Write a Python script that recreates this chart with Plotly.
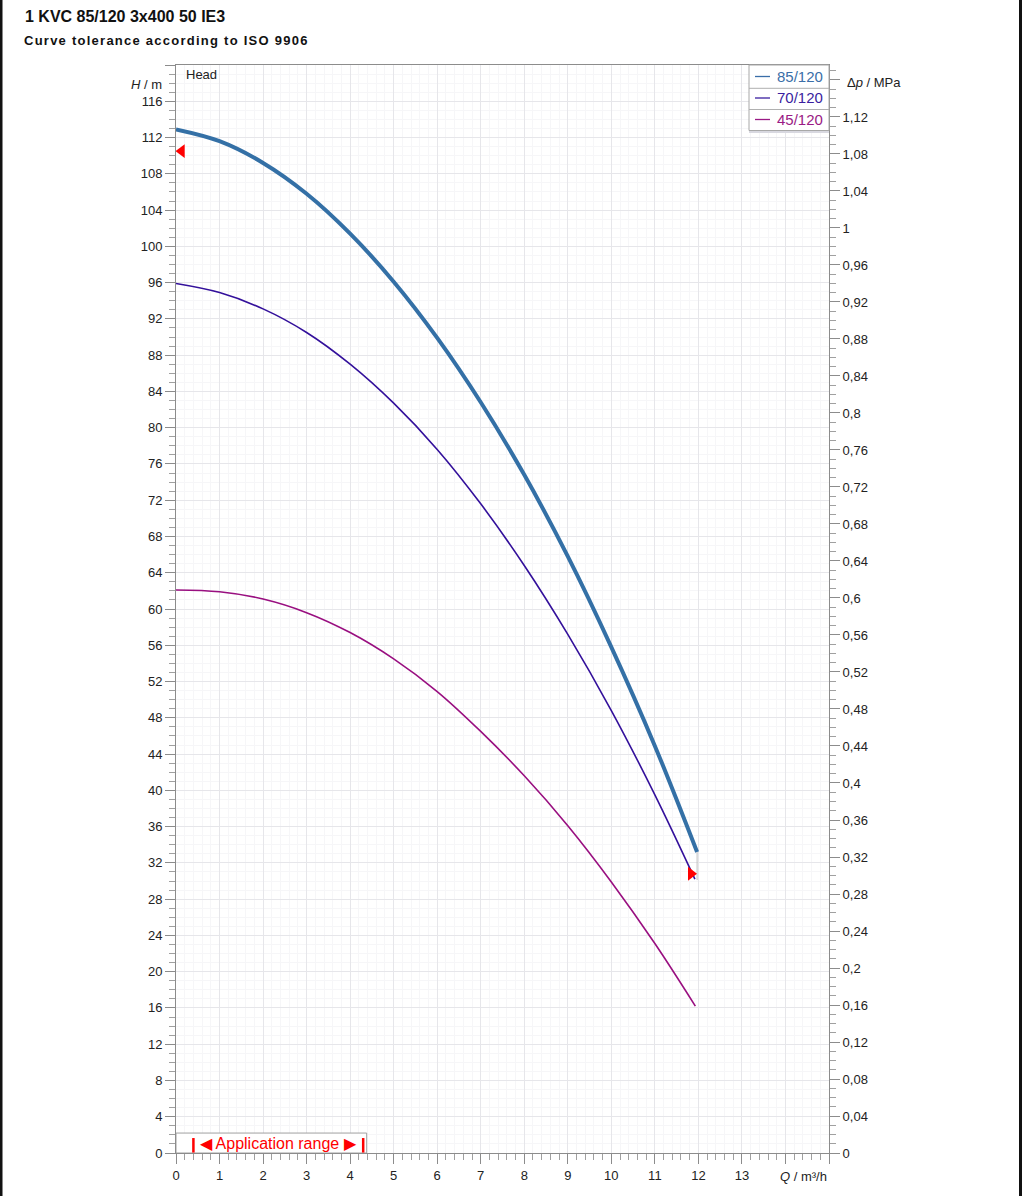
import plotly.graph_objects as go

# ---------------- data ----------------
series_names = ["85/120", "70/120", "45/120"]
q_85 = [0, 1, 2, 3, 4, 5, 6, 7, 8, 9, 10, 11, 11.97]
h_85 = [112.9, 111.6, 109.2, 105.8, 101.4, 96.1, 89.9, 82.8, 74.8, 65.8, 55.8, 44.9, 33.2]
q_70 = [0, 1, 2, 3, 4, 5, 6, 7, 8, 9, 10, 11, 11.92]
h_70 = [95.9, 94.9, 93.1, 90.5, 87.0, 82.7, 77.6, 71.6, 64.8, 57.2, 48.8, 39.5, 30.2]
q_45 = [0, 1, 2, 3, 4, 5, 6, 7, 8, 9, 10, 11, 11.93]
h_45 = [62.1, 61.9, 61.1, 59.6, 57.4, 54.5, 50.9, 46.5, 41.6, 36.1, 29.9, 23.1, 16.2]

tol_q = [0.13, 11.83]          # tolerance markers
tol_h = [110.5, 30.8]
tol_bar_q = [11.97, 11.97]
tol_bar_h = [33.2, 30.1]

app_range = [0.4, 4.3]          # application range (m³/h)

x_tick_vals = list(range(0, 16))
x_tick_text = [str(v) for v in range(0, 14)] + ["", ""]
y_tick_vals = list(range(0, 121, 4))
y_tick_text = [str(v) for v in range(0, 117, 4)] + [""]
p_tick_vals = [round(0.04 * i, 2) for i in range(0, 30)]
p_tick_text = ["0", "0,04", "0,08", "0,12", "0,16", "0,2", "0,24", "0,28", "0,32", "0,36",
               "0,4", "0,44", "0,48", "0,52", "0,56", "0,6", "0,64", "0,68", "0,72", "0,76",
               "0,8", "0,84", "0,88", "0,92", "0,96", "1", "1,04", "1,08", "1,12", ""]

colors = ["#3470a6", "#33109b", "#990f80"]
legend_text_colors = ["#3a6ea8", "#3a1ea0", "#9a1a85"]
widths = [4, 1.6, 1.6]

# ---------------- layout geometry (pixels) ----------------
W, H = 1022, 1196
L, R, T, B = 176, 829, 65, 1153


def px(p):
    return (p - L) / (R - L)


def py(p):
    return (B - p) / (B - T)


FONT = "Liberation Sans, Arial, sans-serif"
AX = "#8c8c8c"

fig = go.Figure()
for name, qs, hs, c, w in zip(series_names, [q_85, q_70, q_45], [h_85, h_70, h_45], colors, widths):
    fig.add_trace(go.Scatter(x=qs, y=hs, mode="lines", name=name,
                             line=dict(color=c, width=w, shape="spline", smoothing=1.0),
                             showlegend=False))

fig.add_trace(go.Scatter(x=tol_bar_q, y=tol_bar_h, mode="lines",
                         line=dict(color="#c0c0c0", width=1), showlegend=False, hoverinfo="skip"))
fig.add_trace(go.Scatter(x=[tol_q[0]], y=[tol_h[0]], mode="markers",
                         marker=dict(symbol="triangle-left", size=12, color="#ff0000"),
                         showlegend=False))
fig.add_trace(go.Scatter(x=[tol_q[1]], y=[tol_h[1]], mode="markers",
                         marker=dict(symbol="triangle-right", size=12, color="#ff0000"),
                         showlegend=False))
# pressure axis carrier
fig.add_trace(go.Scatter(x=[None], y=[None], yaxis="y2", showlegend=False, hoverinfo="skip"))

shapes = []
annotations = []

# application range box
shapes.append(dict(type="rect", xref="x", yref="y", x0=0, x1=4.38, y0=0, y1=2.2,
                   line=dict(color="#a0a0a0", width=1), fillcolor="white", layer="above"))
for qv in app_range:
    shapes.append(dict(type="line", xref="x", yref="y", x0=qv, x1=qv, y0=0.05, y1=1.65,
                       line=dict(color="#ff0000", width=2.5), layer="above"))
annotations.append(dict(x=(app_range[0] + app_range[1]) / 2, y=1.05, xref="x", yref="y",
                        text="◀ Application range ▶", showarrow=False,
                        font=dict(family=FONT, size=16, color="#ff0000")))

# legend (box with separators)
shapes.append(dict(type="rect", xref="paper", yref="paper", x0=px(749), x1=1, y0=py(130.5), y1=1,
                   line=dict(color="#a8a8a8", width=1), fillcolor="white", layer="above"))
shapes.append(dict(type="line", xref="paper", yref="paper", x0=px(749), x1=1, y0=py(132), y1=py(132),
                   line=dict(color="#d8d8e0", width=2), layer="above"))
for sep in [88.3, 109.5]:
    shapes.append(dict(type="line", xref="paper", yref="paper", x0=px(749), x1=1, y0=py(sep), y1=py(sep),
                       line=dict(color="#b0b0b0", width=1), layer="above"))
for i, (name, c, tc) in enumerate(zip(series_names, colors, legend_text_colors)):
    yc = 76.5 + i * 21.5
    shapes.append(dict(type="line", xref="paper", yref="paper", x0=px(755), x1=px(770),
                       y0=py(yc), y1=py(yc), line=dict(color=tc, width=1.3), layer="above"))
    annotations.append(dict(x=px(775), y=py(yc), xref="paper", yref="paper", xanchor="left",
                            yanchor="middle", text=name, showarrow=False,
                            font=dict(family=FONT, size=15, color=tc)))

# page frame edges
shapes.append(dict(type="rect", xref="paper", yref="paper", x0=px(0), x1=px(2.5), y0=py(1196), y1=py(0),
                   line=dict(width=0), fillcolor="#111111", layer="above"))
shapes.append(dict(type="rect", xref="paper", yref="paper", x0=px(1019), x1=px(1022), y0=py(1196), y1=py(0),
                   line=dict(width=0), fillcolor="#111111", layer="above"))

# titles and axis captions
annotations.append(dict(x=px(23), y=py(16), xref="paper", yref="paper", xanchor="left", yanchor="middle",
                        text="<b>1 KVC 85/120 3x400 50 IE3</b>", showarrow=False,
                        font=dict(family=FONT, size=16, color="#111111")))
annotations.append(dict(x=px(22), y=py(40), xref="paper", yref="paper", xanchor="left", yanchor="middle",
                        text="<b><span style='letter-spacing:1.25px'>Curve tolerance according to ISO 9906</span></b>",
                        showarrow=False, font=dict(family=FONT, size=13, color="#111111")))
annotations.append(dict(x=px(164), y=py(84), xref="paper", yref="paper", xanchor="right", yanchor="middle",
                        text="<i>H</i> / m", showarrow=False, font=dict(family=FONT, size=13, color="#222222")))
annotations.append(dict(x=px(184), y=py(75), xref="paper", yref="paper", xanchor="left", yanchor="middle",
                        text="Head", showarrow=False, font=dict(family=FONT, size=13, color="#222222")))
annotations.append(dict(x=px(845), y=py(82), xref="paper", yref="paper", xanchor="left", yanchor="middle",
                        text="Δ<i>p</i> / MPa", showarrow=False, font=dict(family=FONT, size=13, color="#222222")))
annotations.append(dict(x=px(829), y=py(1176), xref="paper", yref="paper", xanchor="right", yanchor="middle",
                        text="<i>Q</i> / m³/h", showarrow=False, font=dict(family=FONT, size=13, color="#222222")))

fig.update_layout(
    width=W, height=H,
    margin=dict(l=L, r=W - R, t=T, b=H - B, pad=0),
    paper_bgcolor="white", plot_bgcolor="white",
    font=dict(family=FONT, size=13, color="#222222"),
    showlegend=False,
    shapes=shapes, annotations=annotations,
    xaxis=dict(range=[0, 15], tickmode="array", tickvals=x_tick_vals, ticktext=x_tick_text,
               showgrid=True, gridcolor="#e6e6ea", gridwidth=1,
               showline=True, linecolor=AX, linewidth=1, mirror=True,
               ticks="outside", ticklen=10, tickcolor=AX, zeroline=False,
               minor=dict(dtick=0.2, showgrid=True, gridcolor="#f6f6f8", ticks="outside",
                          ticklen=6, tickcolor="#a0a0a0"),
               tickfont=dict(family=FONT, size=13, color="#222222")),
    yaxis=dict(range=[0, 120], tickmode="array", tickvals=y_tick_vals, ticktext=y_tick_text,
               showgrid=True, gridcolor="#e6e6ea", gridwidth=1,
               showline=True, linecolor=AX, linewidth=1,
               ticks="outside", ticklen=10, tickcolor=AX, zeroline=False,
               minor=dict(dtick=1, showgrid=True, gridcolor="#f6f6f8", ticks="outside",
                          ticklen=6, tickcolor="#a0a0a0"),
               tickfont=dict(family=FONT, size=13, color="#222222")),
    yaxis2=dict(range=[0, 1.1762], overlaying="y", side="right", anchor="x",
                tickmode="array", tickvals=p_tick_vals, ticktext=p_tick_text,
                showgrid=False, showline=True, linecolor=AX, linewidth=1,
                ticks="outside", ticklen=10, tickcolor=AX, zeroline=False,
                minor=dict(dtick=0.01, ticks="outside", ticklen=6, tickcolor="#a0a0a0", showgrid=False),
                tickfont=dict(family=FONT, size=13, color="#222222")),
)

fig.write_html("out.html", config={"displayModeBar": False},
               post_script="document.body.style.margin='0';document.body.style.overflow='hidden';")
